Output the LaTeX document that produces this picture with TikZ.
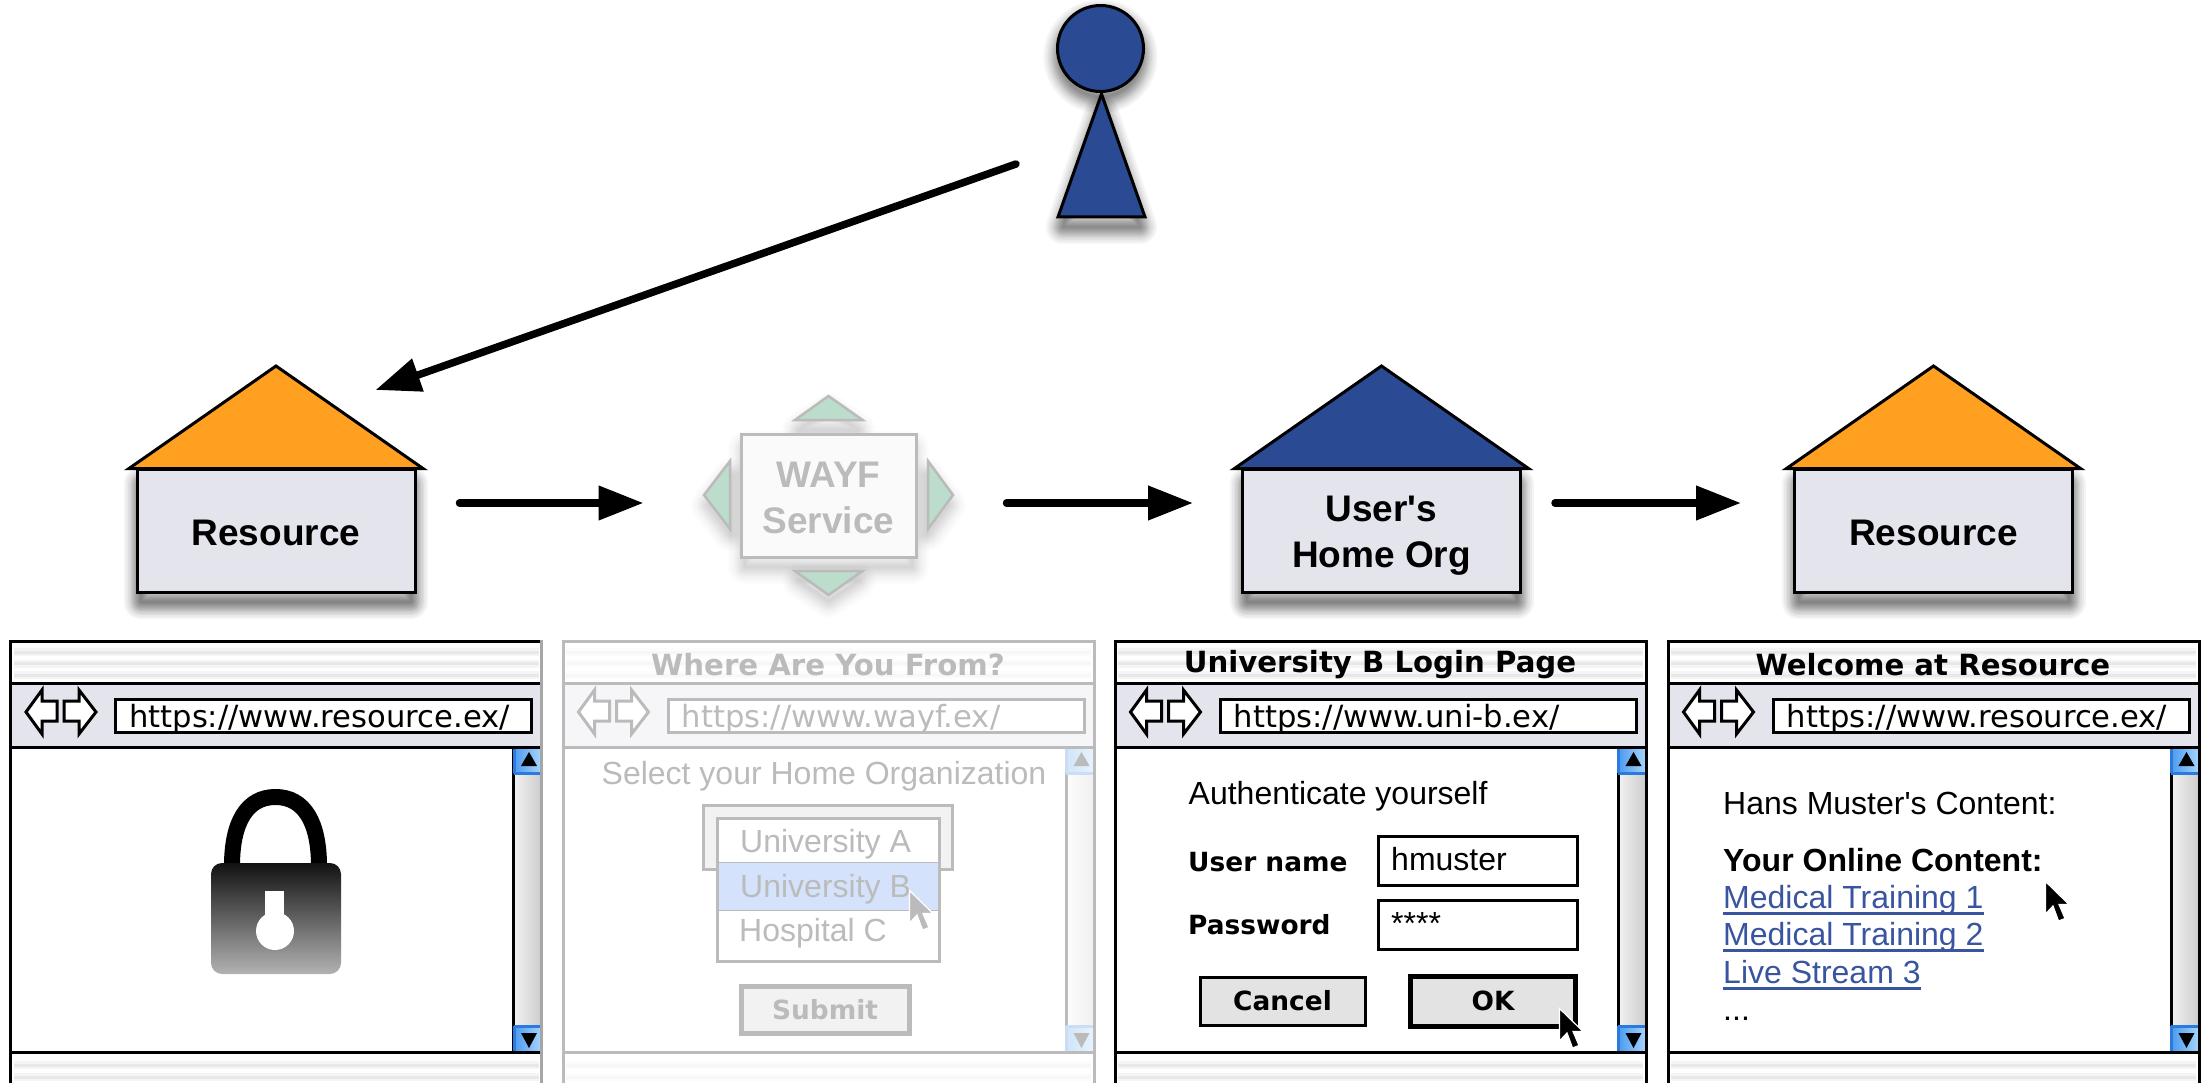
\documentclass[tikz,border=0pt]{standalone}
\usepackage{fontspec}
\setmainfont{Liberation Sans}
\newfontfamily\lfont{Liberation Sans}
\newfontfamily\vfont{DejaVu Sans}
\usetikzlibrary{arrows.meta}
\newcommand\sz[1]{\fontsize{#1}{#1}\selectfont}
\definecolor{navy}{HTML}{2A4A93}
\definecolor{amber}{HTML}{FFA020}
\definecolor{boxfill}{HTML}{E3E4EC}
\definecolor{mint}{HTML}{BCDCCC}
\definecolor{faded}{HTML}{BBBBBB}
\definecolor{linkblue}{HTML}{3A55A0}
\definecolor{sel}{HTML}{D5E2FB}
\tikzset{
  flow/.style={line width=7.5pt,line cap=round,-{Triangle[length=45pt,width=33pt]}},
  outl/.style={draw=black,line width=3pt,line join=miter},
  housebox/.style={outl,fill=boxfill,minimum width=278pt,minimum height=123pt,inner sep=0pt},
  houselabel/.style={inner sep=0pt,align=center,font=\lfont\sz{37}\bfseries,text=black},
  wayfbox/.style={draw=faded,line width=3pt,fill=black!2!white,minimum width=175pt,minimum height=123pt,inner sep=0pt},
  wayflabel/.style={inner sep=0pt,align=center,font=\lfont\sz{37}\bfseries,text=faded},
  diam/.style={draw=faded,line width=2.5pt,fill=mint,line join=miter},
  lbl/.style={inner sep=0pt,anchor=base west,font=\lfont\sz{32},text=wtxt},
  blbl/.style={inner sep=0pt,anchor=base west,font=\vfont\bfseries\sz{26.4},text=wtxt},
  urlt/.style={inner sep=0pt,anchor=base west,font=\vfont\sz{30.6},text=wtxt},
  titlet/.style={inner sep=0pt,font=\vfont\bfseries\sz{29.2},text=wtxt},
  wl/.style={draw=wline,line width=3pt,line join=miter},
  nav/.style={wl,fill=white},
  link/.style={inner sep=0pt,anchor=base west,font=\lfont\sz{32},text=linkblue},
  uline/.style={draw=linkblue,line width=2.5pt}
}
\newcommand\softshadow[3]{\foreach \w in {2,4,6,8,10,12,14,16,18,20,23,26,30,34}{\draw[black,draw opacity=#2,line width=\w pt,line join=round,shift={(0,#1)}] #3;}}
\newcommand\house[5]{% name, centre x, roof colour, label y, text
  \softshadow{10}{.045}{(#2-135,474) rectangle (#2+135,592)}
  \node[housebox] (#1) at (#2,530.5) {};
  \node[houselabel] (#1t) at (#2,#4) {#5};
  \draw[outl,fill=#3] (#2-147,468.5) -- (#2,366) -- (#2+147,468.5) -- cycle;
}
\newcommand\stripes[2]{\foreach \yy in {#1}{\draw[line width=8pt,draw=wstripeb] (#2+3,\yy) -- (#2+528,\yy);\draw[line width=3pt,draw=wstripe] (#2+3,\yy) -- (#2+528,\yy);}}
\newcommand\browser[5]{% x, name, title, url, right edge colour
  \begin{scope}[shift={(#1,0)}]
    \fill[white] (0,640) rectangle (531,1083);
    \stripes{652,663.5,675}{0}
    \stripes{1065,1077}{0}
    \fill[wbar] (0,683) rectangle (531,747);
    \draw[left color=wsl,right color=wsr,draw=none] (503,747) rectangle (531,1052);
    \draw[wl] (503,747) -- (503,1052);
    \foreach \a/\b in {747/773,1026/1052}{
      \shade[left color=wbtn,right color=wbtnl] (503,\a) rectangle (531,\b);
      \draw[draw=wbtne,line width=3pt] (503.5,\a) -- (503.5,\b);
    }
    \draw[draw=wbtne,line width=3pt] (503,773) -- (531,773);
    \draw[draw=wbtne,line width=3pt] (503,1026) -- (531,1026);
    \fill[wtri] (510.5,766) -- (518.5,752) -- (526.5,766) -- cycle;
    \fill[wtri] (510.5,1033) -- (518.5,1048) -- (526.5,1033) -- cycle;
    \draw[wl] (0,683) -- (531,683);
    \draw[wl] (0,747) -- (531,747);
    \draw[wl] (0,1052) -- (531,1052);
    \draw[wl] (0,1083) -- (0,641) -- (531,641);
    \draw[draw=#5,line width=3pt] (531,640) -- (531,1083);
    \draw[nav] (15.5,712) -- (31.5,690) -- (31.5,701) -- (46.5,701) -- (46.5,721) -- (31.5,721) -- (31.5,734) -- cycle;
    \draw[nav] (53.5,701) -- (68.5,701) -- (68.5,690) -- (85.5,712) -- (68.5,734) -- (68.5,721) -- (53.5,721) -- cycle;
    \draw[nav] (105,699) rectangle (521,732);
    \node[titlet] (title#2) at (265,665) {#3};
    \node[urlt] (url#2) at (118.5,727.5) {#4};
  \end{scope}
}
\newcommand\cursor[4]{\draw[fill=#3,draw=#4,line width=1.2pt,line join=miter,shift={(#1,#2)}] (-.5,-1.5) -- (-.5,31) -- (7,23) -- (12.5,38) -- (19,35.5) -- (13,21.5) -- (23,21.5) -- cycle;}
\newcommand\normalwin{%
  \colorlet{wline}{black}\colorlet{wtxt}{black}\colorlet{wbar}{boxfill}%
  \colorlet{wstripe}{black!9}\colorlet{wstripeb}{black!4}%
  \colorlet{wsl}{black!5}\colorlet{wsr}{black!20}%
  \definecolor{wbtn}{HTML}{4A9BEF}\definecolor{wbtnl}{HTML}{A8D4FB}\definecolor{wbtne}{HTML}{2A7AE0}\colorlet{wtri}{black}}
\newcommand\fadedwin{%
  \colorlet{wline}{faded}\colorlet{wtxt}{faded}\definecolor{wbar}{HTML}{F6F6F9}%
  \colorlet{wstripe}{black!3}\colorlet{wstripeb}{black!1}%
  \colorlet{wsl}{black!1}\colorlet{wsr}{black!6}%
  \definecolor{wbtn}{HTML}{D0E4FA}\definecolor{wbtnl}{HTML}{E8F3FD}\definecolor{wbtne}{HTML}{CADDF2}\colorlet{wtri}{faded}}
\begin{document}
\begin{tikzpicture}[x=1pt,y=-1pt]
\useasboundingbox (0,0) rectangle (2206,1083);
\fill[white] (0,0) rectangle (2206,1083);
% person
\softshadow{8}{.04}{(1100.5,48.5) circle (40)}
\softshadow{10}{.04}{(1101.5,102) -- (1140,217) -- (1063,217) -- cycle}
\draw[outl,fill=navy] (1101.5,94) -- (1145,217) -- (1058,217) -- cycle;
\node[outl,fill=navy,circle,minimum size=86pt,inner sep=0pt] (head) at (1100.5,48.5) {};
% houses
\house{res1}{276}{amber}{532.5}{Resource}
\house{home}{1381.5}{navy}{535.5}{User's\\[9pt]Home Org}
\house{res2}{1933.5}{amber}{532.5}{Resource}
% WAYF
\softshadow{10}{.012}{(745,438) rectangle (912,557)}
\softshadow{10}{.012}{(799,420) -- (828.5,400) -- (858.5,420) -- cycle}
\softshadow{10}{.012}{(799,571) -- (828.5,591) -- (858.5,571) -- cycle}
\softshadow{10}{.012}{(730,466) -- (708,495) -- (730,524) -- cycle}
\softshadow{10}{.012}{(928,466) -- (949,495) -- (928,524) -- cycle}
\node[wayfbox] (wayf) at (828.5,495.5) {};
\node[wayflabel] (wayft) at (828.5,497.5) {WAYF\\[9pt]Service};
\draw[diam] (795,420) -- (828.5,396) -- (862.5,420) -- cycle;
\draw[diam] (795,571) -- (828.5,595) -- (862.5,571) -- cycle;
\draw[diam] (730,461) -- (704,495) -- (730,529) -- cycle;
\draw[diam] (928,461) -- (953,495) -- (928,529) -- cycle;
% connectors
\coordinate (row) at (0,503);
\coordinate (userout) at (1016,164);
\coordinate (roofin) at (375.5,390);
\draw[flow] (userout) -- (roofin);
\draw[flow,shorten <=43pt,shorten >=96pt] (res1.east |- row) -- (wayf.west |- row);
\draw[flow,shorten <=89pt,shorten >=48pt] (wayf.east |- row) -- (home.west |- row);
\draw[flow,shorten <=33pt,shorten >=52pt] (home.east |- row) -- (res2.west |- row);
% window 1: locked resource
\normalwin
\browser{10.5}{a}{}{https://www.resource.ex/}{black!35}
\draw[line width=16pt,draw=black] (232,866) .. controls (232,822) and (247,797) .. (275.5,797) .. controls (304,797) and (319,822) .. (319,866);
\shade[top color=black!93,bottom color=black!30,rounded corners=11pt] (211,863) rectangle (341,974);
\fill[white] (265,891) rectangle (284,926);
\fill[white] (275,931) circle (19);
% window 2: WAYF
\fadedwin
\browser{563}{b}{Where Are You From?}{https://www.wayf.ex/}{faded}
\node[inner sep=0pt,anchor=base,font=\lfont\sz{32},text=wtxt] (sel) at (824,784.5) {Select your Home Organization};
\draw[wl,fill=black!5] (703.5,805) rectangle (952.5,869);
\draw[wl,fill=white] (717,818) rectangle (939,961);
\fill[sel] (718.5,862) rectangle (937.5,910);
\draw[faded,line width=1pt] (718.5,862) -- (937.5,862);
\draw[faded,line width=1pt] (718.5,910) -- (937.5,910);
\node[lbl] (ua) at (740,852.5) {University A};
\node[lbl] (ub) at (740,897.5) {University B};
\node[lbl] (hc) at (739,941.5) {Hospital C};
\cursor{910}{892}{faded}{white}
\node[draw=faded,line width=5pt,fill=black!5,minimum width=168pt,minimum height=47pt,inner sep=0pt,font=\vfont\bfseries\sz{26.4},text=wtxt] (submit) at (825,1009.5) {Submit};
% window 3: login
\normalwin
\browser{1115}{c}{University B Login Page}{https://www.uni-b.ex/}{black}
\node[lbl] (auth) at (1188.5,804.5) {Authenticate yourself};
\node[blbl] (uname) at (1188,871) {User name};
\node[blbl] (pass) at (1188,934) {Password};
\draw[wl,fill=white,line width=3pt] (1378,836) rectangle (1577,885);
\draw[wl,fill=white,line width=3pt] (1378,900) rectangle (1577,949);
\node[lbl] (hm) at (1391,870.5) {hmuster};
\node[lbl] (stars) at (1391,934) {****};
\node[draw=black,line width=3pt,fill=black!11,minimum width=165pt,minimum height=48pt,inner sep=0pt,font=\vfont\bfseries\sz{26.4}] (cancel) at (1282.5,1001) {Cancel};
\node[draw=black,line width=5pt,fill=black!11,minimum width=165pt,minimum height=50pt,inner sep=0pt,font=\vfont\bfseries\sz{26.4}] (ok) at (1493,1001) {OK};
\cursor{1560}{1010}{black}{white}
% window 4: content
\browser{1668}{d}{Welcome at Resource}{https://www.resource.ex/}{black}
\node[lbl] (hans) at (1723,814.5) {Hans Muster's Content:};
\node[lbl,font=\lfont\sz{32}\bfseries] (your) at (1723,871) {Your Online Content:};
\node[link] (m1) at (1723,908) {Medical Training 1};
\node[link] (m2) at (1723,945) {Medical Training 2};
\node[link] (m3) at (1723,983) {Live Stream 3};
\draw[uline] ([yshift=-5.5pt]m1.base west) -- ([yshift=-5.5pt]m1.base east);
\draw[uline] ([yshift=-5.5pt]m2.base west) -- ([yshift=-5.5pt]m2.base east);
\draw[uline] ([yshift=-5.5pt]m3.base west) -- ([yshift=-5.5pt]m3.base east);
\node[lbl] (dots) at (1723,1020) {...};
\cursor{2046}{883}{black}{white}
\end{tikzpicture}
\end{document}
